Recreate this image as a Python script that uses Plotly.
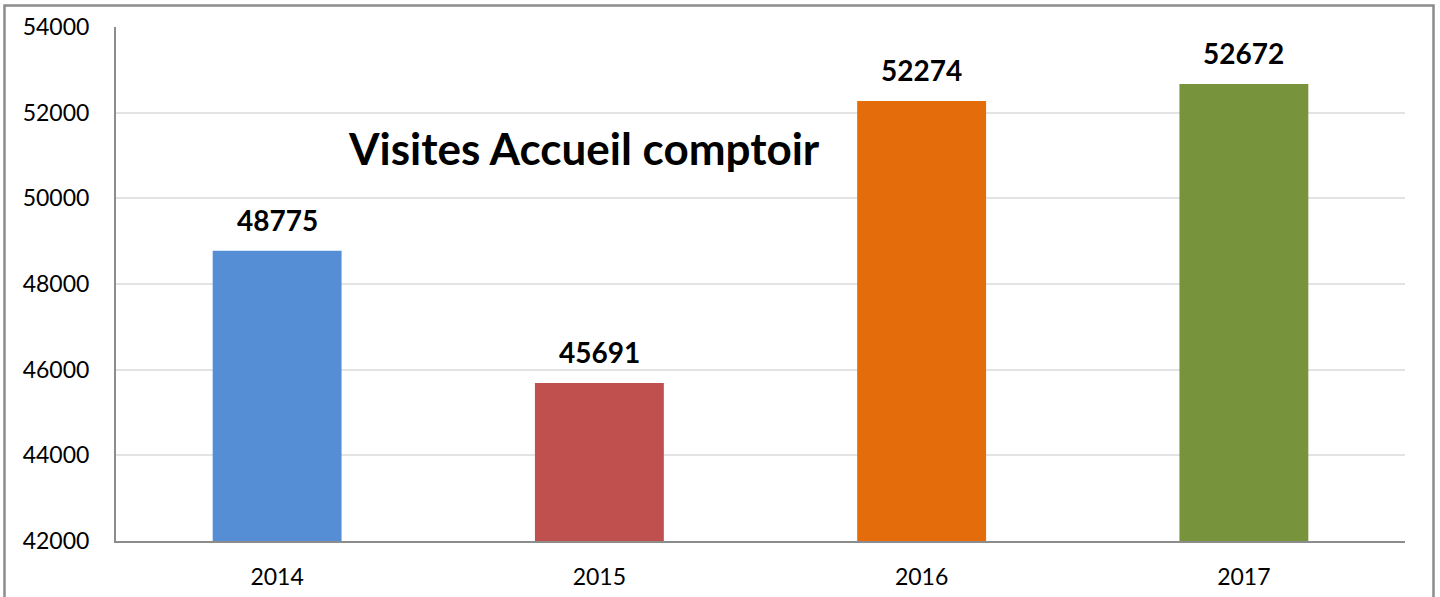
import plotly.graph_objects as go

years = ["2014", "2015", "2016", "2017"]
visits = [48775, 45691, 52274, 52672]
colors = ["#558ED5", "#C0504D", "#E46C0A", "#77933C"]
title_text = "Visites Accueil comptoir"

W, H = 1440, 597
L, R, T, B = 116, 1405, 27, 541

fig = go.Figure()
fig.add_trace(go.Bar(
    x=years, y=visits, marker=dict(color=colors, line=dict(width=0)),
    width=0.4, hoverinfo="x+y",
))
for i, v in enumerate(visits):
    fig.add_annotation(x=i, y=v, text=f"<b>{v}</b>", showarrow=False,
                       xref="x", yref="y",
                       yanchor="bottom", yshift=12,
                       font=dict(family="Lato", size=28, color="#000000"))

fig.add_annotation(xref="paper", yref="paper", x=583.5 / W, y=(H - 148) / H,
                   text=f"<b>{title_text}</b>", showarrow=False,
                   xanchor="center", yanchor="middle",
                   font=dict(family="Lato", size=44, color="#000000"))

fig.add_shape(type="rect", xref="paper", yref="paper",
              x0=4.5 / W, x1=1433.5 / W, y0=-0.05, y1=(H - 5.5) / H,
              line=dict(color="#8C8C8C", width=2.5), fillcolor="rgba(0,0,0,0)", layer="above")

fig.update_layout(
    template="none",
    width=W, height=H,
    margin=dict(l=0, r=0, t=0, b=0, pad=0),
    paper_bgcolor="white", plot_bgcolor="white",
    showlegend=False,
    font=dict(family="Lato", size=23, color="#000000"),
    xaxis=dict(type="category", range=[-0.5, len(years) - 0.5], autorange=False,
               domain=[L / W, R / W], showline=True, linecolor="#8C8C8C", linewidth=2,
               showgrid=False, ticks="", ticklabelstandoff=14, anchor="y", automargin=False,
               tickfont=dict(size=23), zeroline=False),
    yaxis=dict(domain=[(H - B) / H, (H - T) / H], range=[42000, 54000], autorange=False, dtick=2000,
               showline=True, linecolor="#8C8C8C", linewidth=2,
               showgrid=True, gridcolor="#E3E3E3", gridwidth=1.5,
               ticks="", ticklabelstandoff=20, tickformat="d", anchor="x", automargin=False,
               tickfont=dict(size=23), zeroline=False),
)

fig.write_html("out.html", config={"responsive": False, "displayModeBar": False},
               post_script="document.body.style.margin='0';document.body.style.padding='0';")
